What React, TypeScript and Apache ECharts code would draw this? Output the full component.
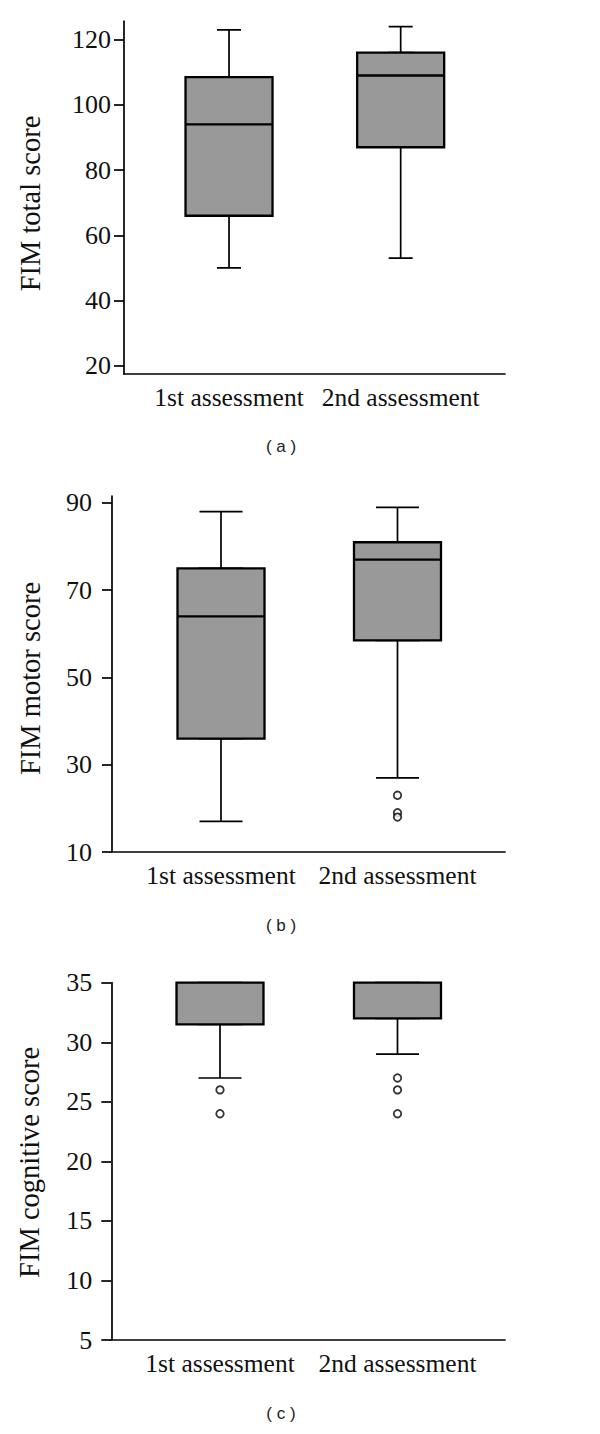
import React, { useEffect, useRef } from "react";
import * as echarts from "echarts";

// ---------- data ----------
const categories = ["1st assessment", "2nd assessment"];

// [min, Q1, median, Q3, max]
const totalBoxes = [
  [50, 66, 94, 108.5, 123],
  [53, 87, 109, 116, 124],
];
const totalOutliers: number[][] = [];
const totalTicks = [20, 40, 60, 80, 100, 120];

const motorBoxes = [
  [17, 36, 64, 75, 88],
  [27, 58.5, 77, 81, 89],
];
const motorOutliers = [
  [1, 23],
  [1, 19],
  [1, 18],
];
const motorTicks = [10, 30, 50, 70, 90];

const cognitiveBoxes = [
  [27, 31.5, 35, 35, 35],
  [29, 32, 35, 35, 35],
];
const cognitiveOutliers = [
  [0, 26],
  [0, 24],
  [1, 27],
  [1, 26],
  [1, 24],
];
const cognitiveTicks = [5, 10, 15, 20, 25, 30, 35];

const yTitles = ["FIM total score", "FIM motor score", "FIM cognitive score"];
const captions = ["( a )", "( b )", "( c )"];

// ---------- layout ----------
const panels = [
  {
    boxes: totalBoxes, outliers: totalOutliers, ticks: totalTicks,
    axisLeft: 124, axisRight: 505, top: 21, bottom: 374,
    yMin: 17.5, yMax: 125.7, dataLeft: 143.2, dataRight: 486.5,
    cap: 24, labelMargin: 13, nameGap: 79, namePad: 12, captionY: 446,
  },
  {
    boxes: motorBoxes, outliers: motorOutliers, ticks: motorTicks,
    axisLeft: 112, axisRight: 505, top: 496, bottom: 852,
    yMin: 10, yMax: 91.6, dataLeft: 132.75, dataRight: 485.75,
    cap: 43, labelMargin: 20, nameGap: 67, namePad: 9, captionY: 925,
  },
  {
    boxes: cognitiveBoxes, outliers: cognitiveOutliers, ticks: cognitiveTicks,
    axisLeft: 111.3, axisRight: 505, top: 982.7, bottom: 1340,
    yMin: 5, yMax: 35, dataLeft: 131.25, dataRight: 486.25,
    cap: 43, labelMargin: 19, nameGap: 67, namePad: 2, captionY: 1413,
  },
];

const W = 600;
const H = 1434;
const SERIF = "'Liberation Serif', 'DejaVu Serif', serif";
const BOX_W = 87;

function buildOption() {
  const grid: any[] = [];
  const xAxis: any[] = [];
  const yAxis: any[] = [];
  const series: any[] = [];
  const graphic: any[] = [];

  panels.forEach((p, i) => {
    const gAxis = grid.length;
    grid.push({
      left: p.axisLeft, width: p.axisRight - p.axisLeft,
      top: p.top, height: p.bottom - p.top,
    });
    const gData = grid.length;
    grid.push({
      left: p.dataLeft, width: p.dataRight - p.dataLeft,
      top: p.top, height: p.bottom - p.top,
    });

    // axis-line grid
    xAxis.push({
      gridIndex: gAxis, type: "value", min: 0, max: 1,
      axisLine: { show: true, onZero: false, lineStyle: { color: "#000", width: 1.7 } },
      axisTick: { show: false }, axisLabel: { show: false }, splitLine: { show: false },
    });
    yAxis.push({
      gridIndex: gAxis, type: "value", min: p.yMin, max: p.yMax,
      name: yTitles[i], nameLocation: "middle", nameRotate: 90, nameGap: p.nameGap,
      nameTextStyle: {
        fontFamily: SERIF, fontSize: 28.5, color: "#111",
        padding: [0, p.namePad, 0, 0],
      },
      axisLine: { show: true, onZero: false, lineStyle: { color: "#000", width: 1.7 } },
      axisTick: { show: true, length: 10, customValues: p.ticks, lineStyle: { color: "#000", width: 1.7 } },
      axisLabel: {
        show: true, customValues: p.ticks, margin: p.labelMargin,
        fontFamily: SERIF, fontSize: 26, color: "#111",
      },
      splitLine: { show: false },
    });

    // data grid
    const xBox = xAxis.length;
    xAxis.push({
      gridIndex: gData, type: "category", data: categories,
      axisLine: { show: false }, axisTick: { show: false },
      axisLabel: {
        show: true, margin: 10, fontFamily: SERIF, fontSize: 25.5, color: "#111",
        interval: 0,
      },
      splitLine: { show: false },
    });
    const xCap = xAxis.length;
    xAxis.push({
      gridIndex: gData, type: "category", data: categories, show: false,
    });
    const yData = yAxis.length;
    yAxis.push({
      gridIndex: gData, type: "value", min: p.yMin, max: p.yMax, show: false,
    });

    // whiskers with narrow caps
    series.push({
      type: "boxplot", xAxisIndex: xCap, yAxisIndex: yData,
      boxWidth: [p.cap, p.cap],
      data: p.boxes,
      itemStyle: { color: "rgba(0,0,0,0)", borderColor: "#000", borderWidth: 1.7 },
      z: 2, silent: true,
    });
    // wide filled box
    series.push({
      type: "boxplot", xAxisIndex: xBox, yAxisIndex: yData,
      boxWidth: [BOX_W, BOX_W],
      data: p.boxes.map((b) => [b[1], b[1], b[2], b[3], b[3]]),
      itemStyle: { color: "#999999", borderColor: "#000", borderWidth: 2.3 },
      z: 3, silent: true,
    });
    if (p.outliers.length) {
      series.push({
        type: "scatter", xAxisIndex: xBox, yAxisIndex: yData,
        data: p.outliers,
        symbol: "circle", symbolSize: 7.5,
        itemStyle: { color: "#fff", borderColor: "#000", borderWidth: 1.8 },
        z: 4, silent: true,
      });
    }

    graphic.push({
      type: "text", x: 281, y: p.captionY,
      style: {
        text: captions[i], align: "center", verticalAlign: "middle",
        font: "17px 'Liberation Sans', Arial, sans-serif", fill: "#222",
      },
    });
  });

  return {
    animation: false,
    backgroundColor: "#fff",
    grid, xAxis, yAxis, series, graphic,
  };
}

export default function App() {
  const ref = useRef<HTMLDivElement>(null);
  useEffect(() => {
    document.body.style.margin = "0";
    if (!ref.current) return;
    const chart = echarts.init(ref.current, undefined, { renderer: "svg", width: W, height: H });
    chart.setOption(buildOption() as any);
    return () => chart.dispose();
  }, []);
  return (
    <div
      ref={ref}
      style={{ position: "absolute", left: 0, top: 0, width: W, height: H, background: "#fff" }}
    />
  );
}
